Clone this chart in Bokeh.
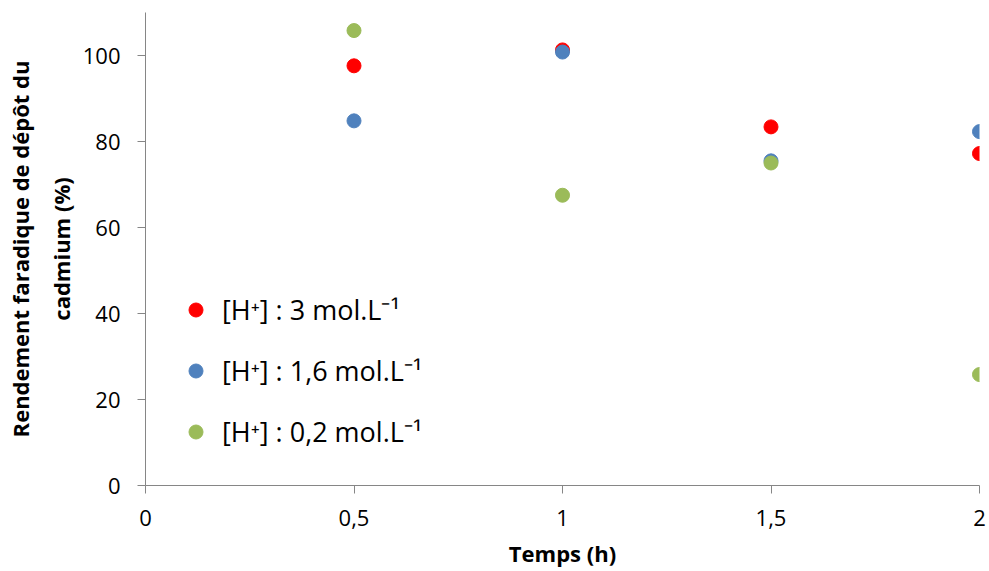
from bokeh.plotting import figure
from bokeh.models import FixedTicker, CustomJSTickFormatter, Range1d, Legend, LegendItem
from bokeh.embed import file_html
from bokeh.resources import INLINE

temps = [0.5, 1.0, 1.5, 2.0]
h3 = [97.6, 101.3, 83.4, 77.2]
h16 = [84.8, 100.8, 75.5, 82.3]
h02 = [105.8, 67.5, 75.0, 25.8]
labels = ["[H\u207a] : 3 mol.L\u207b\u00b9", "[H\u207a] : 1,6 mol.L\u207b\u00b9", "[H\u207a] : 0,2 mol.L\u207b\u00b9"]
colors = ["#FF0000", "#4F81BD", "#9BBB59"]
x_ticks = [0, 0.5, 1, 1.5, 2]
y_ticks = [0, 20, 40, 60, 80, 100]

FONT = "Open Sans"
AX = "#868686"

p = figure(width=989, height=571, output_backend="svg", toolbar_location=None,
           x_range=Range1d(0, 2), y_range=Range1d(0, 110),
           min_border_left=145, min_border_right=10, min_border_top=12, min_border_bottom=86)
p.outline_line_color = None
p.xgrid.visible = False
p.ygrid.visible = False

renderers = []
for ys, c in zip([h3, h16, h02], colors):
    r = p.scatter(temps, ys, size=14, fill_color=c, line_color=c)
    renderers.append(r)

for ax in (p.xaxis[0], p.yaxis[0]):
    ax.axis_line_color = AX
    ax.major_tick_line_color = AX
    ax.minor_tick_line_color = None
    ax.major_tick_in = 0
    ax.major_tick_out = 8
    ax.major_label_text_font = FONT
    ax.major_label_text_font_size = "22px"
    ax.major_label_text_color = "#000000"
    ax.axis_label_text_font = FONT
    ax.axis_label_text_font_style = "bold"
    ax.axis_label_text_font_size = "22px"
    ax.axis_label_text_color = "#000000"

p.xaxis.ticker = FixedTicker(ticks=x_ticks)
p.yaxis.ticker = FixedTicker(ticks=y_ticks)
p.xaxis.formatter = CustomJSTickFormatter(code="return tick.toString().replace('.', ',');")
p.xaxis.major_label_standoff = 16
p.yaxis.major_label_standoff = 17
p.xaxis.axis_label = "Temps (h)"
p.yaxis.axis_label = "Rendement faradique de dépôt du\ncadmium (%)"
p.yaxis.axis_label_text_line_height = 1.35
p.xaxis.axis_label_standoff = 9
p.yaxis.axis_label_standoff = 4

legend = Legend(items=[LegendItem(label=l, renderers=[r]) for l, r in zip(labels, renderers)],
                location=(33, 35))
legend.glyph_width = 35
legend.glyph_height = 35
legend.label_height = 35
legend.spacing = 24
legend.label_standoff = 9
legend.padding = 0
legend.margin = 0
legend.border_line_alpha = 0
legend.background_fill_alpha = 0
legend.label_text_font = FONT
legend.label_text_font_size = "27px"
legend.label_text_color = "#000000"
p.add_layout(legend, "center")

open("out.html", "w").write(file_html(p, INLINE))
